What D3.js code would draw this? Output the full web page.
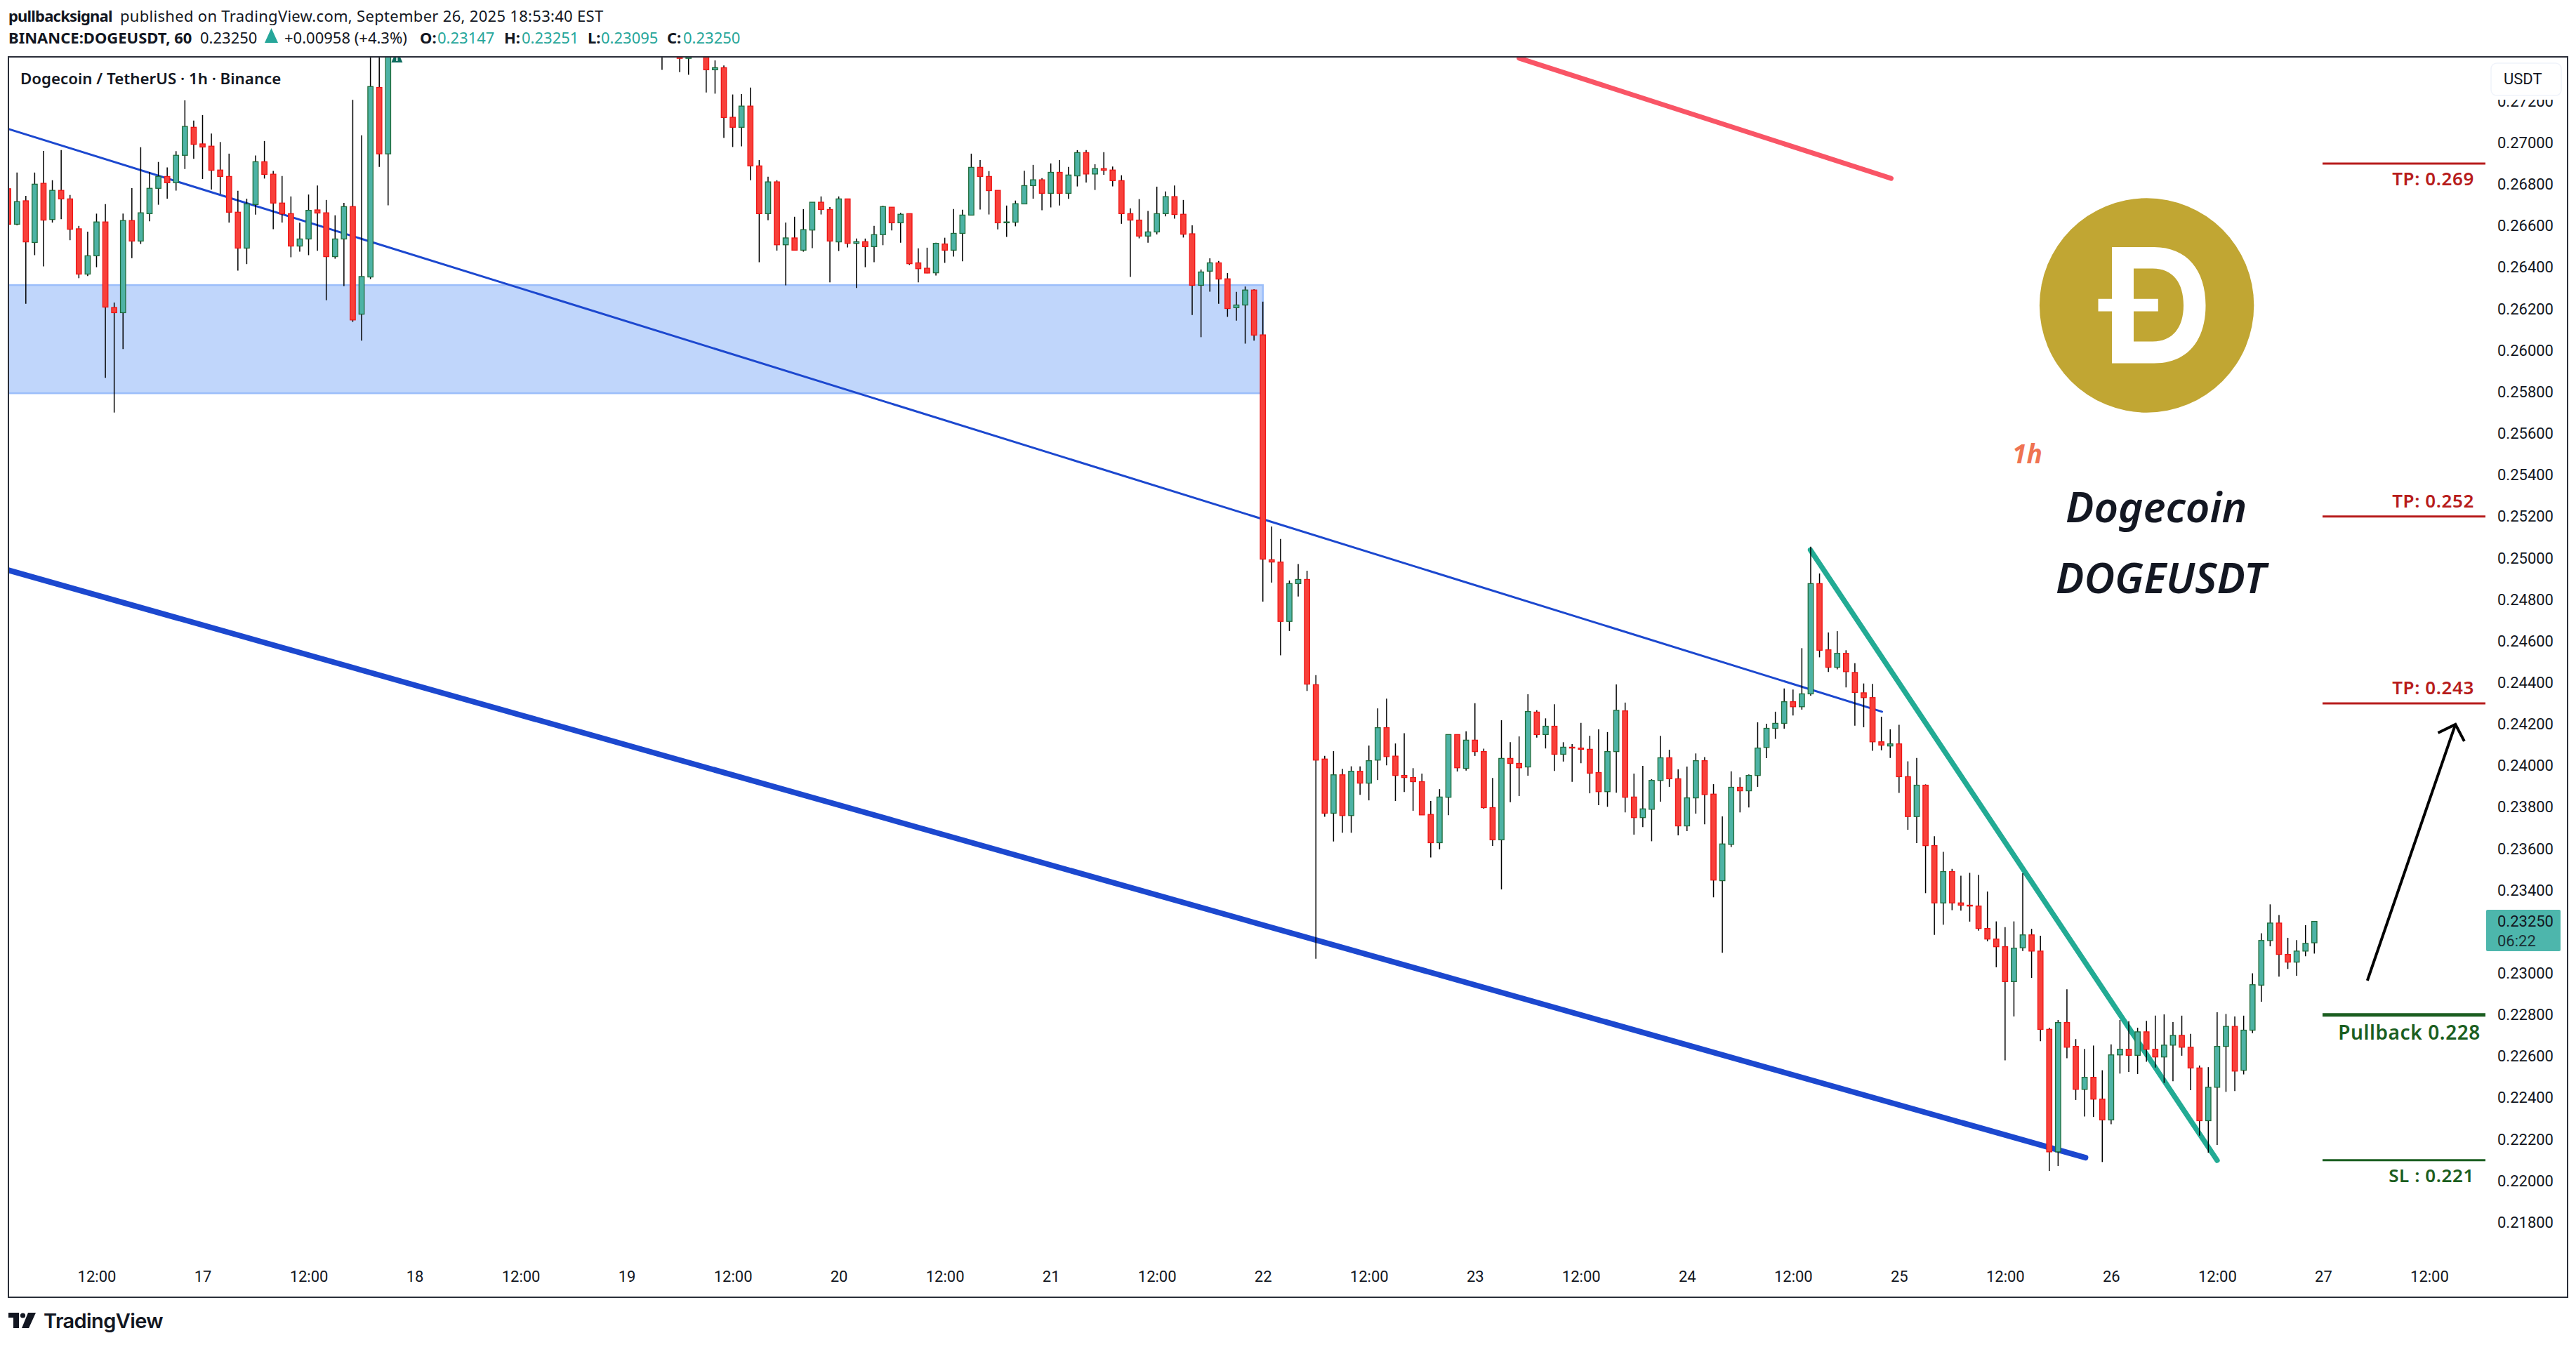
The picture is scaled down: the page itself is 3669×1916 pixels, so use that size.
<!DOCTYPE html>
<html>
<head>
<meta charset="utf-8">
<script src="https://cdn.jsdelivr.net/npm/d3@7"></script>
<style>
html, body { margin: 0; padding: 0; background: #fff; }
svg { display: block; }
text { font-family: "Noto Sans", sans-serif; }
.axis path, .axis line { display: none; }
.axis text { font-family: Roboto, sans-serif; font-size: 22px; fill: #131722; }
</style>
</head>
<body>
<svg id="chart" width="3669" height="1916"></svg>
<script>
// hours after Sep 17 00:00, candles above the top of the pane are left out
const hours = d3.range(-22, 22).concat([52, 54, 55], d3.range(57, 240));

// prices in 1/100000 USDT
const highs = [
  26790,26857,26745,26857,26961,26820,26965,26749,26600,26572,26659,26705,26231,26659,26782,26979,26860,26908,26882,26960,27205,27107,
  27134,27045,27004,26948,26769,26731,26939,27009,26865,26840,26742,26615,26751,26795,26725,26651,26711,27207,27036,27550,27500,27800,
  27600,27550,27520,
  27500,27397,27373,27233,27235,27266,26917,26837,26820,26616,26644,26681,26714,26742,26691,26742,26731,26539,26539,26600,26697,26691,26663,
  26659,26492,26495,26519,26543,26681,26678,26948,26917,26864,26771,26698,26722,26866,26894,26830,26901,26917,26884,26965,26965,26897,26955,26886,
  26844,26685,26729,26672,26789,26766,26795,26725,26603,26390,26444,26431,26373,26282,26308,26295,26235,
  25152,25092,24892,24971,24939,24436,24047,24070,23985,23997,23997,24097,24276,24323,24107,24156,23988,23962,23830,23887,24151,24150,24166,24301,
  24082,23941,24219,24113,24141,24344,24267,24228,24296,24113,24104,24206,24144,24175,24162,24391,24304,23962,23999,23935,24144,24077,23982,23996,
  24059,24041,23911,23756,23973,23944,23958,24209,24202,24260,24372,24367,24566,25055,24926,
  24642,24648,24556,24494,24396,24394,24236,24175,24197,24021,24037,23910,23660,23585,23503,23470,23484,23474,23394,23250,23222,23250,23482,23214,
  23181,22738,22775,22923,22683,22636,22652,22533,22658,22775,22769,22738,22771,22796,22802,22765,22796,22708,22556,22548,22812,22804,22792,22796,
  23000,23193,23332,23281,23171,23160,23232,23251
];
const lows = [
  26600,26603,26225,26459,26405,26616,26632,26531,26348,26358,26401,25868,25701,26007,26445,26513,26622,26702,26731,26770,26874,26923,
  26826,26775,26753,26616,26385,26416,26654,26828,26584,26616,26449,26476,26459,26480,26242,26442,26310,26138,26047,26344,26884,26699,
  27352,27341,27328,
  27243,27237,27024,26980,26983,26820,26425,26627,26481,26314,26483,26476,26493,26655,26328,26479,26496,26301,26401,26425,26507,26578,26519,
  26412,26328,26372,26361,26422,26452,26429,26652,26679,26655,26583,26547,26598,26706,26731,26675,26689,26698,26730,26790,26809,26773,26846,26790,
  26610,26354,26540,26519,26559,26646,26635,26544,26171,26064,26283,26225,26162,26144,26033,26047,24790,
  24882,24532,24649,24815,24360,23070,23754,23635,23677,23677,23860,23833,23931,24002,23830,23873,23783,23763,23558,23597,23762,23972,23976,24047,
  23793,23614,23404,23824,23854,23952,24135,24083,23975,24020,23922,24012,23867,23810,23802,23870,23775,23668,23704,23636,23827,23898,23664,23685,
  23769,23718,23366,23099,23608,23775,23799,23898,24036,24129,24178,24242,24270,24337,24522,
  24451,24464,24377,24193,24185,24072,24074,24037,23869,23691,23627,23386,23185,23234,23304,23302,23249,23205,23154,23029,22581,22792,23107,22978,
  22673,22048,22072,22591,22390,22310,22308,22091,22273,22517,22525,22515,22574,22546,22472,22480,22603,22437,22218,22136,22173,22429,22433,22513,
  22712,22863,23130,22984,23021,22988,23082,23095
];
const opens = [
  26779,26608,26721,26520,26805,26631,26771,26730,26586,26368,26456,26619,26207,26182,26626,26527,26659,26781,26838,26808,26940,27075,
  26995,26984,26869,26838,26666,26493,26703,26909,26849,26710,26659,26503,26537,26677,26663,26452,26537,26693,26175,26354,27267,26947,
  27500,27500,27407,
  27450,27352,27362,27123,27075,27177,26889,26659,26812,26509,26542,26483,26580,26714,26679,26523,26730,26516,26524,26500,26558,26690,26615,
  26659,26422,26396,26374,26513,26483,26564,26652,26882,26838,26771,26615,26618,26706,26794,26822,26757,26858,26757,26841,26953,26850,26876,26869,
  26818,26659,26628,26551,26571,26659,26741,26656,26562,26314,26382,26422,26345,26206,26219,26291,26075,
  24992,24981,24695,24877,24897,24390,24032,23771,23956,23760,23973,23916,24027,24183,24046,23953,23943,23923,23765,23629,23848,24150,23987,24123,
  24068,23798,23643,24035,24011,23994,24258,24150,24190,24055,24089,24085,24079,23967,23875,24068,24264,23849,23750,23790,23929,24038,23937,23710,
  23845,24024,23863,23446,23621,23896,23879,23953,24088,24180,24204,24308,24284,24346,24877,
  24558,24474,24541,24449,24351,24328,24115,24095,24105,23947,23755,23906,23615,23339,23490,23339,23328,23324,23216,23165,23128,22960,23123,23185,
  23107,22730,22140,22763,22648,22441,22499,22394,22294,22607,22634,22605,22718,22634,22597,22654,22701,22644,22544,22290,22451,22648,22744,22533,
  22726,22943,23158,23242,23091,23054,23107,23147
];
const closes = [
  26608,26717,26523,26801,26628,26771,26730,26584,26368,26456,26619,26209,26182,26626,26527,26663,26781,26838,26808,26940,27079,26993,
  26980,26868,26838,26666,26493,26706,26909,26848,26710,26658,26503,26537,26675,26662,26452,26537,26693,26147,26356,27271,26947,27600,
  27450,27407,27480,
  27352,27362,27122,27075,27177,26889,26659,26812,26509,26542,26483,26582,26714,26679,26527,26730,26516,26524,26500,26558,26693,26615,26656,
  26418,26394,26373,26516,26483,26564,26652,26882,26838,26770,26615,26619,26707,26794,26822,26757,26858,26757,26845,26953,26850,26876,26868,26818,
  26659,26628,26551,26571,26659,26741,26655,26560,26314,26378,26422,26344,26202,26219,26291,26074,24995,
  24981,24695,24877,24897,24393,24027,23771,23956,23760,23973,23916,24024,24183,24044,23953,23943,23923,23763,23629,23849,24150,23990,24123,24068,
  23798,23643,24035,24011,23990,24261,24150,24190,24055,24089,24085,24079,23964,23875,24068,24267,23848,23750,23792,23929,24038,23937,23710,23845,
  24024,23861,23449,23623,23896,23879,23953,24085,24180,24204,24308,24284,24346,24877,24556,
  24474,24541,24453,24353,24328,24115,24099,24105,23947,23755,23906,23615,23339,23490,23339,23328,23324,23216,23165,23128,22960,23121,23185,23107,
  22730,22140,22763,22644,22441,22499,22394,22294,22607,22634,22605,22718,22634,22597,22654,22701,22644,22544,22290,22451,22648,22744,22529,22726,
  22945,23158,23242,23091,23054,23107,23144,23250
];

const timeTicks = d3.range(-12, 253, 12);
const timeLabels = ["12:00","17","12:00","18","12:00","19","12:00","20","12:00","21","12:00","22","12:00","23","12:00","24","12:00","25","12:00","26","12:00","27","12:00"];
const priceTicks = d3.range(218, 273, 2).map(d => d / 1000);

const zone = { from: -40, to: 120, top: 0.26315, bottom: 0.25794 };
// trend lines as [hour, price] pairs
const thinLine = [[-22, 0.27067], [190.07, 0.2426]];
const thickLine = [[-22, 0.24942], [213.1, 0.22112]];
const tealLine = [[181.97, 0.25039], [228, 0.22099]];
const redLine = [[149, 0.27408], [191.1, 0.26829]];
const arrowBody = [[245, 0.22965], [254.97, 0.24199]];
const arrowHead = [[253, 0.24158], [254.97, 0.24199], [255.97, 0.24118]];

const levels = [
  { price: 0.269, color: "#b71c1c", w: 3 },
  { price: 0.252, color: "#b71c1c", w: 3 },
  { price: 0.243, color: "#b71c1c", w: 3 },
  { price: 0.228, color: "#1b5e20", w: 5 },
  { price: 0.221, color: "#1b5e20", w: 3 }
];
const levelLabels = [
  { text: "TP: 0.269", price: 0.269, dy: 31, color: "#b71c1c", size: 26 },
  { text: "TP: 0.252", price: 0.252, dy: -13, color: "#b71c1c", size: 26 },
  { text: "TP: 0.243", price: 0.243, dy: -13, color: "#b71c1c", size: 26 },
  { text: "Pullback 0.228", price: 0.228, dy: 35, color: "#1b5e20", end: 3533, size: 28 },
  { text: "SL : 0.221", price: 0.221, dy: 31, color: "#1b5e20", size: 26 }
];

const candles = hours.map((h, i) => ({
  hour: h,
  high: highs[i] / 1e5,
  low: lows[i] / 1e5,
  open: opens[i] / 1e5,
  close: closes[i] / 1e5
}));

const pane = { left: 12, top: 81, right: 3657, bottom: 1848 };

const x = d3.scaleLinear().domain([0, 240]).range([288.5, 3308.9]);
const y = d3.scaleLinear().domain([0.218, 0.27]).range([1741.4, 203.5]);

const svg = d3.select("#chart");

svg.append("clipPath").attr("id", "paneClip").append("rect")
  .attr("x", pane.left).attr("y", pane.top)
  .attr("width", pane.right - pane.left).attr("height", pane.bottom - pane.top);

// header lines
const header = [
  { t: "pullbacksignal", x: 12, y: 31, b: 1, ls: -0.8 },
  { t: "published on TradingView.com, September 26, 2025 18:53:40 EST", x: 171, y: 31, ls: 0.3 },
  { t: "BINANCE:DOGEUSDT, 60", x: 12, y: 62, b: 1 },
  { t: "0.23250", x: 285, y: 62 },
  { t: "+0.00958 (+4.3%)", x: 405, y: 62 },
  { t: "O:", x: 598, y: 62, b: 1 },
  { t: "0.23147", x: 623, y: 62, c: "#26a69a" },
  { t: "H:", x: 718, y: 62, b: 1 },
  { t: "0.23251", x: 743, y: 62, c: "#26a69a" },
  { t: "L:", x: 837, y: 62, b: 1 },
  { t: "0.23095", x: 856, y: 62, c: "#26a69a" },
  { t: "C:", x: 950, y: 62, b: 1 },
  { t: "0.23250", x: 973, y: 62, c: "#26a69a" }
];
svg.append("g").selectAll("text").data(header).join("text")
  .attr("x", d => d.x).attr("y", d => d.y)
  .attr("font-size", 22)
  .attr("font-weight", d => d.b ? 700 : 400)
  .attr("letter-spacing", d => d.ls || 0)
  .attr("fill", d => d.c || "#131722")
  .text(d => d.t);
svg.append("path").attr("d", "M386.5,46 L396,67 L377,67 Z").attr("fill", "#26a69a").attr("transform", "translate(0,-6)");

// pane contents
const plot = svg.append("g").attr("clip-path", "url(#paneClip)");

plot.append("rect")
  .attr("x", x(zone.from)).attr("y", y(zone.top))
  .attr("width", x(zone.to) - x(zone.from)).attr("height", y(zone.bottom) - y(zone.top))
  .attr("fill", "#c0d6fb").attr("stroke", "#9bbefa").attr("stroke-width", 2.5);

const line = d3.line().x(d => x(d[0])).y(d => y(d[1]));

function drawLine(pts, color, w) {
  return plot.append("path").attr("d", line(pts)).attr("fill", "none")
    .attr("stroke", color).attr("stroke-width", w).attr("stroke-linecap", "round").attr("stroke-linejoin", "round");
}
drawLine(thinLine, "#1c48cf", 3);
drawLine(thickLine, "#1c48cf", 8);
drawLine(tealLine, "#22ab94", 7.5);
drawLine(redLine, "#f95566", 7);

const bars = plot.append("g").selectAll("g").data(candles).join("g");
bars.append("line")
  .attr("x1", d => x(d.hour)).attr("x2", d => x(d.hour))
  .attr("y1", d => y(d.high)).attr("y2", d => y(d.low))
  .attr("stroke", "#000").attr("stroke-width", 1.5);
bars.append("rect")
  .attr("x", d => x(d.hour) - 3.7).attr("width", 7.4)
  .attr("y", d => y(Math.max(d.open, d.close)))
  .attr("height", d => Math.max(1, Math.abs(y(d.open) - y(d.close))))
  .attr("fill", d => d.close >= d.open ? "#4db3a5" : "#f8403a")
  .attr("stroke", d => d.close >= d.open ? "#1f6b3a" : "#ee1515")
  .attr("stroke-width", 1.3);

// small flag that pokes in at the top of the pane
const flagX = x(22);
plot.append("path").attr("d", `M${flagX},${pane.top - 10} L${flagX + 8},${pane.top + 8} L${flagX - 8},${pane.top + 8} Z`).attr("fill", "#0c6b5d");
plot.append("rect").attr("x", flagX - 1).attr("y", pane.top).attr("width", 2).attr("height", 6).attr("fill", "#fff");

// price levels on the right
svg.append("g").selectAll("line").data(levels).join("line")
  .attr("x1", 3308).attr("x2", 3540)
  .attr("y1", d => y(d.price)).attr("y2", d => y(d.price))
  .attr("stroke", d => d.color).attr("stroke-width", d => d.w);
svg.append("g").selectAll("text").data(levelLabels).join("text")
  .attr("x", d => d.end || 3524).attr("y", d => y(d.price) + d.dy)
  .attr("text-anchor", "end")
  .attr("font-size", d => d.size).attr("font-weight", 600).attr("letter-spacing", 0.6)
  .attr("fill", d => d.color)
  .text(d => d.text);

plot.append("path").attr("d", line(arrowBody)).attr("fill", "none").attr("stroke", "#000").attr("stroke-width", 4);
plot.append("path").attr("d", line(arrowHead)).attr("fill", "none").attr("stroke", "#000").attr("stroke-width", 4);

// logo
svg.append("circle").attr("cx", 3057.6).attr("cy", 435).attr("r", 152.7).attr("fill", "#c1a633");
svg.append("path")
  .attr("fill", "#fff").attr("fill-rule", "evenodd")
  .attr("d", "M3008,352 H3068 C3115,352 3141.5,385 3141.5,435 C3141.5,486 3115,517.5 3068,517.5 H3008 V443.5 H2988.5 V425.7 H3008 Z " +
             "M3039,382.6 V425.7 H3073.8 V443.5 H3039 V486.5 H3066 C3095,486.5 3110,466 3110,435 C3110,403 3095,382.6 3066,382.6 Z");

svg.append("text").attr("x", 2866).attr("y", 660).attr("font-size", 37).attr("font-weight", 700)
  .attr("font-style", "italic").attr("fill", "#ef7352").text("1h");
svg.append("text").attr("x", 2942).attr("y", 744).attr("font-size", 60).attr("font-weight", 600)
  .attr("font-style", "italic").attr("fill", "#131722").text("Dogecoin");
svg.append("text").attr("x", 2928).attr("y", 845).attr("font-size", 60).attr("font-weight", 600)
  .attr("font-style", "italic").attr("fill", "#131722").text("DOGEUSDT");

svg.append("text").attr("x", 29).attr("y", 120).attr("font-size", 22.3).attr("font-weight", 600)
  .attr("fill", "#131722").text("Dogecoin / TetherUS · 1h · Binance");

// axes
const yAxis = d3.axisRight(y).tickValues(priceTicks).tickSize(0).tickPadding(0).tickFormat(d3.format(".5f"));
svg.append("g").attr("class", "axis").attr("transform", "translate(3557,0)").call(yAxis);

const xAxis = d3.axisBottom(x).tickValues(timeTicks).tickSize(0).tickPadding(0)
  .tickFormat((d, i) => timeLabels[i]);
svg.append("g").attr("class", "axis").attr("transform", "translate(0,1810)").call(xAxis);

// unit box hides the top half of the clipped label
svg.append("rect").attr("x", 3546).attr("y", 120).attr("width", 104).attr("height", 22).attr("fill", "#fff");
svg.append("rect").attr("x", 3548).attr("y", 90).attr("width", 100).attr("height", 46).attr("rx", 8)
  .attr("fill", "#fff").attr("stroke", "#f0f3fa").attr("stroke-width", 1.5);
svg.append("text").attr("x", 3566).attr("y", 120).attr("font-size", 22)
  .attr("fill", "#131722").style("font-family", "Roboto").text("USDT");

// last price tag
svg.append("rect").attr("x", 3541).attr("y", 1296).attr("width", 106).attr("height", 59).attr("rx", 2).attr("fill", "#4db6ac");
svg.append("text").attr("x", 3557).attr("y", 1320).style("font-family", "Roboto").attr("font-size", 22).attr("fill", "#131722").text("0.23250");
svg.append("text").attr("x", 3557).attr("y", 1348).style("font-family", "Roboto").attr("font-size", 22).attr("fill", "#131722").attr("opacity", 0.85).text("06:22");

// pane border
svg.append("rect")
  .attr("x", pane.left).attr("y", pane.top)
  .attr("width", pane.right - pane.left).attr("height", pane.bottom - pane.top)
  .attr("fill", "none").attr("stroke", "#2a2e39").attr("stroke-width", 2);

// TradingView mark
const mark = svg.append("g").attr("fill", "#131722");
mark.append("path").attr("d", "M12,1870 H27 V1892 H19 V1877 H12 Z");
mark.append("circle").attr("cx", 32.5).attr("cy", 1874).attr("r", 3.6);
mark.append("path").attr("d", "M40,1870 H51 L41,1892 H31 Z");
svg.append("text").attr("x", 62).attr("y", 1892).style("font-family", "Inter").attr("font-size", 29)
  .attr("font-weight", 600).attr("letter-spacing", -0.6).attr("fill", "#131722").text("TradingView");
</script>
</body>
</html>
